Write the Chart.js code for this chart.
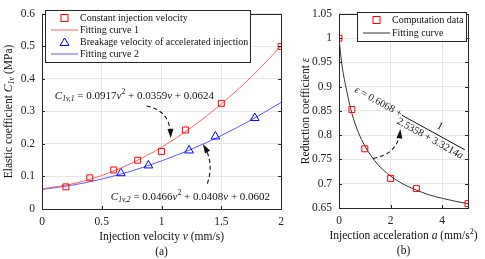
<!DOCTYPE html>
<html>
<head>
<meta charset="utf-8">
<script src="https://cdn.jsdelivr.net/npm/chart.js@4"></script>
<style>
  html, body { margin: 0; padding: 0; background: #fff; }
  #wrap { position: relative; width: 485px; height: 259px; }
  #left { position: absolute; left: 0; top: 0; }
  #right { position: absolute; left: 290px; top: 0; }
</style>
</head>
<body>
<div id="wrap">
  <canvas id="left" width="290" height="259"></canvas>
  <canvas id="right" width="195" height="259"></canvas>
</div>
<script>
// (a) elastic coefficient vs injection velocity
const constVel = [0.2, 0.4, 0.6, 0.8, 1.0, 1.2, 1.5, 2.0];
const constCoef = [0.068, 0.096, 0.120, 0.150, 0.177, 0.243, 0.325, 0.500];
const breakVel = [0.66, 0.89, 1.23, 1.45, 1.78];
const breakCoef = [0.110, 0.134, 0.180, 0.223, 0.280];
const fitVel = [0, 0.25, 0.5, 0.75, 1.0, 1.25, 1.5, 1.75, 2.0];
const fit1Coef = [0.062, 0.077, 0.103, 0.141, 0.190, 0.251, 0.323, 0.406, 0.501];
const fit2Coef = [0.060, 0.073, 0.092, 0.117, 0.148, 0.184, 0.226, 0.274, 0.328];
const velTicks = [0, 0.5, 1, 1.5, 2];

// (b) reduction coefficient vs injection acceleration
const accel = [0, 0.5, 1, 2, 3, 5];
const reduction = [1.000, 0.853, 0.772, 0.711, 0.690, 0.659];
const fitAccel = [0, 0.1, 0.25, 0.5, 0.75, 1, 1.5, 2, 2.5, 3, 3.5, 4, 4.5, 5];
const fitReduction = [1.001, 0.950, 0.904, 0.845, 0.806, 0.778, 0.740, 0.716, 0.699, 0.687, 0.677, 0.670, 0.664, 0.659];
const accelTicks = [0, 2, 4];

const SERIF = '"Liberation Serif", "Times New Roman", serif';
const RED = '#ff0000', RED_LINE = '#ff6060', BLUE = '#0000ff', BLUE_LINE = '#5a5aff';
const GRID = '#e6e6e6', AXIS = '#262626';

const pts = (xs, ys) => xs.map((x, i) => ({ x, y: ys[i] }));

// rich text: segments [text, style] with style n | i | sub | isub | sup
function richWidth(ctx, segs, size) {
  let w = 0;
  for (const [t, s] of segs) {
    ctx.font = fontFor(s, size);
    w += ctx.measureText(t).width;
  }
  return w;
}
function fontFor(s, size) {
  const small = (s === 'sub' || s === 'isub' || s === 'sup');
  const it = (s === 'i' || s === 'isub');
  return (it ? 'italic ' : '') + (small ? size * 0.7 : size) + 'px ' + SERIF;
}
function drawRich(ctx, x, y, segs, size, align, rot) {
  ctx.save();
  ctx.translate(x, y);
  if (rot) ctx.rotate(rot);
  const w = richWidth(ctx, segs, size);
  let cx = align === 'center' ? -w / 2 : 0;
  ctx.textBaseline = 'middle';
  ctx.textAlign = 'left';
  ctx.fillStyle = '#111';
  for (const [t, s] of segs) {
    ctx.font = fontFor(s, size);
    let dy = 0;
    if (s === 'sub' || s === 'isub') dy = size * 0.25;
    if (s === 'sup') dy = -size * 0.35;
    ctx.fillText(t, cx, dy);
    cx += ctx.measureText(t).width;
  }
  ctx.restore();
}

function dashedArrow(ctx, p0, c, p1) {
  ctx.save();
  ctx.strokeStyle = '#111';
  ctx.lineWidth = 1.1;
  ctx.setLineDash([4, 3]);
  ctx.beginPath();
  ctx.moveTo(p0[0], p0[1]);
  ctx.quadraticCurveTo(c[0], c[1], p1[0], p1[1]);
  ctx.stroke();
  ctx.setLineDash([]);
  const ang = Math.atan2(p1[1] - c[1], p1[0] - c[0]);
  ctx.fillStyle = '#111';
  ctx.beginPath();
  ctx.moveTo(p1[0] + Math.cos(ang) * 3, p1[1] + Math.sin(ang) * 3);
  ctx.lineTo(p1[0] + Math.cos(ang + 2.7) * 7, p1[1] + Math.sin(ang + 2.7) * 7);
  ctx.lineTo(p1[0] + Math.cos(ang - 2.7) * 7, p1[1] + Math.sin(ang - 2.7) * 7);
  ctx.closePath();
  ctx.fill();
  ctx.restore();
}

// box, inward ticks, axis titles, legend, annotations
const decor = {
  id: 'decor',
  afterDraw(chart, args, opts) {
    const { ctx, chartArea: a, scales } = chart;
    const xs = scales.x, ys = scales.y;
    ctx.save();
    ctx.strokeStyle = AXIS;
    ctx.lineWidth = 1;
    ctx.strokeRect(Math.round(a.left) + 0.5, Math.round(a.top) + 0.5,
                   Math.round(a.right - a.left), Math.round(a.bottom - a.top));
    ctx.beginPath();
    for (const t of xs.ticks) {
      const px = Math.round(xs.getPixelForValue(t.value)) + 0.5;
      ctx.moveTo(px, a.bottom); ctx.lineTo(px, a.bottom - 3);
      ctx.moveTo(px, a.top); ctx.lineTo(px, a.top + 3);
    }
    for (const t of ys.ticks) {
      const py = Math.round(ys.getPixelForValue(t.value)) + 0.5;
      ctx.moveTo(a.left, py); ctx.lineTo(a.left + 3, py);
      ctx.moveTo(a.right, py); ctx.lineTo(a.right - 3, py);
    }
    ctx.stroke();
    ctx.restore();

    const mid = (a.left + a.right) / 2;
    drawRich(ctx, mid, a.bottom + 28, opts.xTitle, 11.5, 'center');
    drawRich(ctx, mid, a.bottom + 43, [[opts.tag, 'n']], 11.5, 'center');
    drawRich(ctx, opts.yTitleX, (a.top + a.bottom) / 2, opts.yTitle, 11.5, 'center', -Math.PI / 2);

    // legend
    const L = opts.legend;
    ctx.save();
    ctx.fillStyle = '#fff';
    ctx.fillRect(L.x, L.y, L.w, L.h);
    ctx.strokeStyle = AXIS;
    ctx.lineWidth = 1;
    ctx.strokeRect(L.x + 0.5, L.y + 0.5, L.w, L.h);
    L.items.forEach((it, i) => {
      const ds = chart.data.datasets[it.ds];
      const y = L.y + 8 + i * L.row;
      const sx = L.x + 6, ex = L.x + 33;
      if (ds.showLine) {
        ctx.strokeStyle = ds.borderColor;
        ctx.lineWidth = ds.borderWidth;
        ctx.beginPath(); ctx.moveTo(sx, y); ctx.lineTo(ex, y); ctx.stroke();
      } else {
        ctx.strokeStyle = ds.pointBorderColor;
        ctx.lineWidth = 1;
        const cx = (sx + ex) / 2;
        if (ds.pointStyle === 'triangle') {
          ctx.beginPath();
          ctx.moveTo(cx, y - 4); ctx.lineTo(cx + 4.5, y + 3.5); ctx.lineTo(cx - 4.5, y + 3.5);
          ctx.closePath(); ctx.stroke();
        } else {
          ctx.strokeRect(cx - 3.5, y - 3.5, 7, 7);
        }
      }
      drawRich(ctx, ex + 2, y, [[ds.label, 'n']], 10, 'left');
    });
    ctx.restore();

    if (opts.annotate) opts.annotate(chart, ctx, xs, ys);
  }
};

function axes(xmin, xmax, xstep, xTicks, ymin, ymax, ystep, yW, xH) {
  const fmt = v => String(Number(v.toFixed(2)));
  return {
    x: {
      type: 'linear', min: xmin, max: xmax,
      afterBuildTicks: s => { s.ticks = xTicks.map(v => ({ value: v })); },
      afterFit: s => { s.height = xH; },
      grid: { color: GRID, drawTicks: false },
      border: { display: false },
      ticks: { stepSize: xstep, padding: 6, color: '#222', font: { family: SERIF, size: 11.5 }, callback: fmt, maxRotation: 0 }
    },
    y: {
      type: 'linear', min: ymin, max: ymax,
      afterBuildTicks: s => {
        const t = [];
        for (let v = ymin; v <= ymax + 1e-9; v += ystep) t.push({ value: Number(v.toFixed(4)) });
        s.ticks = t;
      },
      afterFit: s => { s.width = yW; },
      grid: { color: GRID, drawTicks: false },
      border: { display: false },
      ticks: { padding: 7, color: '#222', font: { family: SERIF, size: 11.5 }, callback: fmt }
    }
  };
}

const base = {
  responsive: false,
  animation: false,
  plugins: { legend: { display: false }, tooltip: { enabled: false } }
};

new Chart(document.getElementById('left'), {
  type: 'scatter',
  data: {
    datasets: [
      { label: 'Constant injection velocity', data: pts(constVel, constCoef), showLine: false,
        pointStyle: 'rect', pointRadius: 4.2, pointBorderColor: RED, pointBackgroundColor: 'rgba(0,0,0,0)', pointBorderWidth: 1 },
      { label: 'Fitting curve 1', data: pts(fitVel, fit1Coef), showLine: true, borderColor: RED_LINE, borderWidth: 1,
        pointRadius: 0, tension: 0.4, cubicInterpolationMode: 'monotone' },
      { label: 'Breakage velocity of accelerated injection', data: pts(breakVel, breakCoef), showLine: false,
        pointStyle: 'triangle', pointRadius: 5, pointBorderColor: BLUE, pointBackgroundColor: 'rgba(0,0,0,0)', pointBorderWidth: 1 },
      { label: 'Fitting curve 2', data: pts(fitVel, fit2Coef), showLine: true, borderColor: BLUE_LINE, borderWidth: 1,
        pointRadius: 0, tension: 0.4, cubicInterpolationMode: 'monotone' }
    ]
  },
  options: {
    ...base,
    layout: { padding: { left: 0, top: 9, right: 5, bottom: 0 } },
    scales: axes(0, 2, 0.5, velTicks, 0, 0.6, 0.1, 42, 50),
    plugins: {
      ...base.plugins,
      decor: {
        xTitle: [['Injection velocity ', 'n'], ['v', 'i'], [' (mm/s)', 'n']],
        tag: '(a)',
        yTitleX: 9,
        yTitle: [['Elastic coefficient ', 'n'], ['C', 'i'], ['1v', 'isub'], [' (MPa)', 'n']],
        legend: { x: 45, y: 10, w: 205, h: 52, row: 12, items: [{ ds: 0 }, { ds: 1 }, { ds: 2 }, { ds: 3 }] },
        annotate(chart, ctx, xs, ys) {
          const P = (v, c) => [xs.getPixelForValue(v), ys.getPixelForValue(c)];
          const e1 = P(0.107, 0.348);
          drawRich(ctx, e1[0], e1[1], [['C', 'i'], ['1v,1', 'isub'], [' = 0.0917', 'n'], ['v', 'i'], ['2', 'sup'],
            [' + 0.0359', 'n'], ['v', 'i'], [' + 0.0624', 'n']], 11, 'left');
          const e2 = P(0.576, 0.036);
          drawRich(ctx, e2[0], e2[1], [['C', 'i'], ['1v,2', 'isub'], [' = 0.0466', 'n'], ['v', 'i'], ['2', 'sup'],
            [' + 0.0408', 'n'], ['v', 'i'], [' + 0.0602', 'n']], 11, 'left');
          dashedArrow(ctx, P(0.875, 0.317), P(1.07, 0.303), P(1.076, 0.227));
          dashedArrow(ctx, P(1.383, 0.078), P(1.44, 0.141), P(1.358, 0.192));
        }
      }
    }
  },
  plugins: [decor]
});

new Chart(document.getElementById('right'), {
  type: 'scatter',
  data: {
    datasets: [
      { label: 'Computation data', data: pts(accel, reduction), showLine: false,
        pointStyle: 'rect', pointRadius: 4.2, pointBorderColor: RED, pointBackgroundColor: 'rgba(0,0,0,0)', pointBorderWidth: 1 },
      { label: 'Fitting curve', data: pts(fitAccel, fitReduction), showLine: true, borderColor: '#333', borderWidth: 1,
        pointRadius: 0, cubicInterpolationMode: 'monotone' }
    ]
  },
  options: {
    ...base,
    layout: { padding: { left: 0, top: 9, right: 17, bottom: 0 } },
    scales: axes(0, 5, 2, accelTicks, 0.65, 1.05, 0.05, 49, 51),
    plugins: {
      ...base.plugins,
      decor: {
        xTitle: [['Injection acceleration ', 'n'], ['a', 'i'], [' (mm/s', 'n'], ['2', 'sup'], [')', 'n']],
        tag: '(b)',
        yTitleX: 16,
        yTitle: [['Reduction coefficient ', 'n'], ['ε', 'i']],
        legend: { x: 67, y: 12, w: 109, h: 29, row: 13, items: [{ ds: 0 }, { ds: 1 }] },
        annotate(chart, ctx, xs, ys) {
          const P = (v, c) => [xs.getPixelForValue(v), ys.getPixelForValue(c)];
          const ang = Math.atan2(35, 63);
          const t0 = P(0.745, 0.891);
          drawRich(ctx, t0[0] - 3, t0[1] - 2, [['ε', 'i'], [' = 0.6068 +', 'n']], 10.5, 'left', ang);
          const b0 = P(2.444, 0.841), b1 = P(4.876, 0.770);
          ctx.save();
          ctx.strokeStyle = '#111'; ctx.lineWidth = 1;
          ctx.beginPath(); ctx.moveTo(b0[0], b0[1]); ctx.lineTo(b1[0], b1[1]); ctx.stroke();
          ctx.restore();
          const mx = (b0[0] + b1[0]) / 2, my = (b0[1] + b1[1]) / 2;
          const nx = Math.sin(ang), ny = -Math.cos(ang);
          drawRich(ctx, mx + nx * 7 + 3, my + ny * 7, [['1', 'n']], 10.5, 'center', ang);
          drawRich(ctx, mx - nx * 7, my - ny * 7, [['2.5358 + 3.3214', 'n'], ['a', 'i']], 10.5, 'center', ang);
          dashedArrow(ctx, P(1.324, 0.752), P(2.28, 0.762), P(2.367, 0.8065));
        }
      }
    }
  },
  plugins: [decor]
});
</script>
</body>
</html>
